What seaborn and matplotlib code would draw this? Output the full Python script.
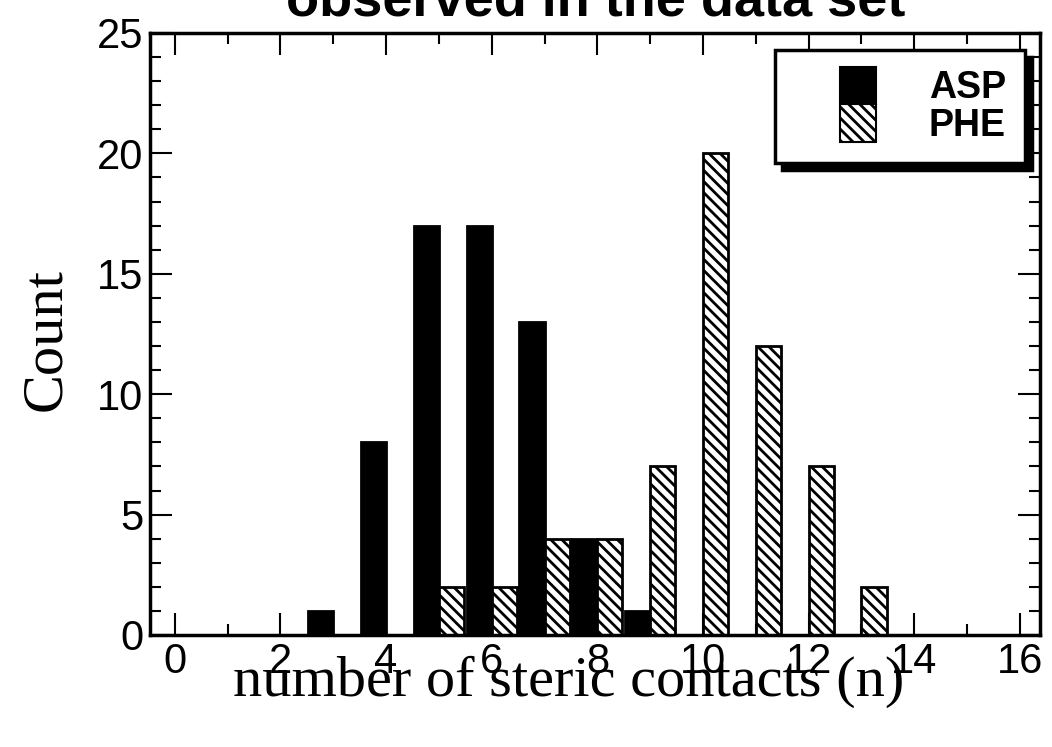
import numpy as np
import pandas as pd
import matplotlib
matplotlib.use("Agg")
import matplotlib.pyplot as plt
import seaborn as sns
from matplotlib.patches import Patch, Rectangle
from matplotlib.legend_handler import HandlerPatch
from matplotlib.ticker import MultipleLocator

# ---- data ----
asp_n = [3, 4, 5, 6, 7, 8, 9]
asp_count = [1, 8, 17, 17, 13, 4, 1]
phe_n = [5, 6, 7, 8, 9, 10, 11, 12, 13]
phe_count = [2, 2, 4, 4, 7, 20, 12, 7, 2]
x_ticks = [0, 2, 4, 6, 8, 10, 12, 14, 16]
y_ticks = [0, 5, 10, 15, 20, 25]
series = ["ASP", "PHE"]
title = "observed in the data set"
xlabel = "number of steric contacts (n)"
ylabel = "Count"

df = pd.DataFrame({
    "n": asp_n + phe_n,
    "count": asp_count + phe_count,
    "residue": ["ASP"] * len(asp_n) + ["PHE"] * len(phe_n),
})

sns.set_style("ticks")
plt.rcParams["hatch.linewidth"] = 2.0
plt.rcParams["font.family"] = ["Liberation Sans", "DejaVu Sans"]
for k in ["text.color", "axes.labelcolor", "xtick.color", "ytick.color",
          "axes.edgecolor"]:
    plt.rcParams[k] = "black"


class RightPatch(HandlerPatch):
    """Narrow swatch drawn at the right end of the handle box, rows touching."""
    def create_artists(self, legend, orig_handle, xdescent, ydescent,
                       width, height, fontsize, trans):
        w = fontsize * 0.98
        pad = 0.06 * height
        p = Rectangle((-xdescent + width - w, -ydescent - pad), w, height + 2 * pad)
        self.update_prop(p, orig_handle, legend)
        p.set_transform(trans)
        return [p]


fig = plt.figure(figsize=(10.52, 7.47), dpi=100)
ax = fig.add_axes([150 / 1052, 1 - 635 / 747, 890 / 1052, 602 / 747])

sns.barplot(data=df, x="n", y="count", hue="residue", hue_order=series,
            native_scale=True, width=0.95, dodge=True,
            palette={"ASP": "black", "PHE": "white"},
            edgecolor="black", linewidth=2, errorbar=None,
            legend=False, ax=ax)

for bar in ax.containers[1]:
    bar.set_hatch("\\\\\\")

ax.set_xlim(-0.47, 16.38)
ax.set_ylim(0, 25)
ax.set_xticks(x_ticks)
ax.set_yticks(y_ticks)
ax.xaxis.set_minor_locator(MultipleLocator(1))
ax.yaxis.set_minor_locator(MultipleLocator(1))
ax.tick_params(which="both", direction="in", top=True, right=True,
               labelsize=30, width=1.5)
ax.tick_params(axis="x", pad=5)
ax.tick_params(axis="y", pad=5)
ax.tick_params(which="major", length=16)
ax.tick_params(which="minor", length=8)
for s in ax.spines.values():
    s.set_linewidth(2.5)
    s.set_visible(True)

ax.set_xlabel(xlabel, family=["Liberation Serif"], fontsize=42)
ax.xaxis.set_label_coords(0.47, -0.035)
ax.xaxis.label.set_va("top")
ax.set_ylabel(ylabel, family=["Liberation Serif"], fontsize=42)
ax.yaxis.set_label_coords(-0.088, 0.49)

fig.text(0.566, 1 - 16 / 747, title, ha="center", va="baseline",
         fontsize=39, fontweight="bold")

handles = [Patch(facecolor="black", edgecolor="black", linewidth=1.5),
           Patch(facecolor="white", edgecolor="black", linewidth=1.5, hatch="\\\\\\")]
leg = ax.legend(handles, series, loc="upper right",
                bbox_to_anchor=(0.983, 0.972),
                frameon=True, fancybox=False, framealpha=1,
                edgecolor="black", labelspacing=0.0,
                handlelength=2.2, handleheight=1.0, handletextpad=1.4,
                borderpad=0.5, borderaxespad=0.0,
                prop={"weight": "bold", "size": 27},
                handler_map={Patch: RightPatch()},
                shadow={"ox": 5, "oy": -5, "color": "black", "alpha": 1})
leg.get_frame().set_linewidth(2.5)

fig.savefig("out.png", dpi=100)
